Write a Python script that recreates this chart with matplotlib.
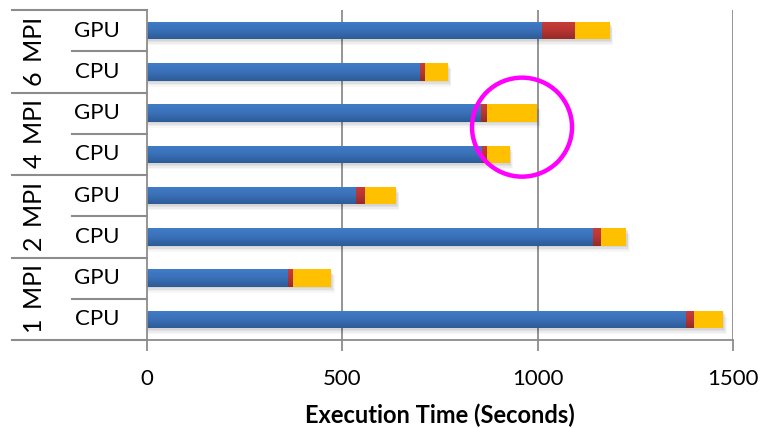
import numpy as np
import matplotlib
matplotlib.use("Agg")
import matplotlib.pyplot as plt
from matplotlib.patches import Ellipse
from matplotlib.colors import LinearSegmentedColormap
from matplotlib.transforms import blended_transform_factory

plt.rcParams['font.family'] = ['Lato', 'DejaVu Sans']

# Rows from bottom to top
groups = ["1 MPI", "2 MPI", "4 MPI", "6 MPI"]
devices = ["CPU", "GPU"]
compute = [1380, 360, 1142, 535, 857, 855, 699, 1011]
transfer = [18, 12, 18, 21, 11, 13, 12, 84]
other = [77, 99, 67, 81, 60, 131, 59, 89]

x_ticks = [0, 500, 1000, 1500]
x_label = "Execution Time (Seconds)"

fig = plt.figure(figsize=(7.6, 4.28), dpi=100)
ax = fig.add_axes([147 / 760, 1 - 340 / 428, 586 / 760, 330 / 428])

n = len(compute)
y = np.arange(n)
h = 0.42
grid_c = "#8c8c8c"

ax.set_xlim(0, 1500)
ax.set_ylim(-0.5, n - 0.5)

for gx in x_ticks[1:]:
    ax.axvline(gx, color=grid_c, lw=1.3, zorder=0)

blue_cm = LinearSegmentedColormap.from_list("b", ["#2d5b96", "#3a70b8", "#417cc7"])
red_cm = LinearSegmentedColormap.from_list("r", ["#962a28", "#b73533", "#c93d3a"])
grad = np.linspace(0, 1, 64).reshape(-1, 1)

left = np.zeros(n)
segs = [(compute, blue_cm, None), (transfer, red_cm, None), (other, None, "#ffc000")]
# soft drop shadow under each full bar
total = np.array(compute) + np.array(transfer) + np.array(other)
for k, a in enumerate([0.05, 0.05, 0.04, 0.03]):
    off = 0.04 + 0.035 * k
    ax.barh(y - off, total + 3 + 2 * k, height=h, left=0, color="black",
            alpha=a, lw=0, zorder=1)

for vals, cm, flat in segs:
    vals = np.array(vals, dtype=float)
    bars = ax.barh(y, vals, height=h, left=left, color=flat if flat else "none",
                   lw=0, zorder=2)
    if cm is not None:
        for b, yy, l, v in zip(bars, y, left, vals):
            im = ax.imshow(grad, cmap=cm, aspect="auto", origin="lower",
                           extent=[l, l + v, yy - h / 2, yy + h / 2], zorder=2.5)
            im.set_clip_path(b)
    left = left + vals

ax.set_xlim(0, 1500)
ax.set_ylim(-0.5, n - 0.5)

for s in ["top", "right"]:
    ax.spines[s].set_visible(False)
for s in ["left", "bottom"]:
    ax.spines[s].set_color(grid_c)
    ax.spines[s].set_linewidth(1.3)

ax.set_xticks(x_ticks)
ax.set_xticklabels([str(t) for t in x_ticks], fontsize=16)
ax.tick_params(axis="x", length=8, width=1.3, color=grid_c, pad=13)
ax.set_yticks([])
ax.set_xlabel(x_label, fontsize=17, fontweight="bold", labelpad=10)

# two-level category axis
tr = blended_transform_factory(ax.transAxes, ax.transData)
x_outer = (12 - 147) / 586
x_inner = (72 - 147) / 586
line_kw = dict(color=grid_c, lw=1.5, transform=tr, clip_on=False)
for i in range(n + 1):
    yy = i - 0.5
    x0 = x_outer if i % 2 == 0 else x_inner
    ax.plot([x0, 0.0], [yy, yy], **line_kw)
for i in range(n):
    ax.text((97 - 147) / 586, i, devices[i % 2], transform=tr, ha="center",
            va="center", fontsize=16)
for g, name in enumerate(groups):
    ax.text((34 - 147) / 586, 2 * g + 0.5, name.replace(" ", "\u2009 "),
            transform=tr, ha="center", va="center", rotation=90, fontsize=18)

# highlight ring
ring = Ellipse((960, 4.66), width=256, height=2.4, fill=False,
               edgecolor="#ff00ff", lw=3.2, zorder=5, clip_on=False)
ax.add_patch(ring)

fig.savefig("out.png", dpi=100)
